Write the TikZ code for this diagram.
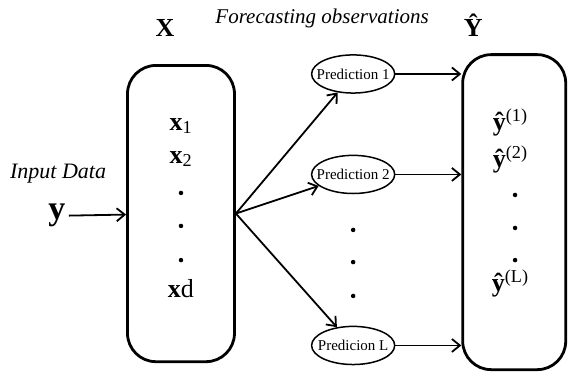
\documentclass[tikz,border=0pt]{standalone}
\usepackage{fontspec}
\setmainfont{Liberation Serif}
\usetikzlibrary{positioning,arrows.meta,shapes.geometric}
\newcommand\predfont{\fontsize{15}{18}\selectfont}
\newcommand\entryfont{\fontsize{26}{30}\selectfont\bfseries}
\newcommand\headfont{\fontsize{26}{30}\selectfont\bfseries}

\begin{document}
\begin{tikzpicture}[every node/.style={align=center},
    bigbox/.style={draw, line width=2.8pt, rounded corners=1cm, inner sep=0pt},
    predict/.style={draw, ellipse, line width=1.5pt, inner xsep=-7.5pt, inner ysep=0pt,
        minimum width=2.92cm, minimum height=1.34cm, font=\predfont},
    flow/.style={-{Straight Barb[length=8pt,width=13pt]}, line width=1.8pt},
    entry/.style={font=\entryfont, anchor=base},
    head/.style={font=\headfont, anchor=base},
    dotmark/.style={circle, fill, inner sep=0pt, minimum size=4.5pt}]
  \useasboundingbox (0,0) rectangle (19.96,-13.11);

  % the two big boxes
  \node[bigbox, minimum width=3.76cm, minimum height=10.41cm] (xbox) at (6.36,-7.505) {};
  \node[bigbox, minimum width=3.62cm, minimum height=11.07cm] (ybox) at (18.07,-7.455) {};

  % headings
  \node[head] (xhead) at (5.80,-1.30) {X};
  \node[head] (yhead) at (16.63,-1.30) {Ŷ};
  \node[font=\fontsize{21}{25}\selectfont\itshape, anchor=base] (title) at (11.32,-0.81)
    {Forecasting observations};

  % input
  \node[font=\fontsize{22}{26}\selectfont\itshape, anchor=base] (inlab) at (2.04,-6.26) {Input Data};
  \node[font=\fontsize{34}{38}\selectfont\bfseries, anchor=base] (ylab) at (2.0,-7.73) {y};
  \draw[flow] (ylab) -- (xbox);

  % features
  \node[entry] (x1) at (6.36,-4.57) {x\textsubscript{\mdseries 1}};
  \node[entry] (x2) at (6.36,-5.73) {x\textsubscript{\mdseries 2}};
  \node[entry] (xd) at (6.36,-10.44) {x{\mdseries d}};
  \foreach \i/\y in {1/-6.78,2/-7.94,3/-9.14}
    \node[dotmark] (xdot\i) at (6.36,\y) {};

  % predictions
  \node[predict] (p1) at (12.41,-2.60) {Prediction 1};
  \node[predict] (p2) at (12.41,-6.13) {Prediction 2};
  \node[predict] (pl) at (12.41,-12.14) {Predicion L};
  \foreach \i/\y in {1/-8.08,2/-9.21,3/-10.40}
    \node[dotmark] (pdot\i) at (12.41,\y) {};

  % outputs
  \node[entry] (yh1) at (17.93,-4.57) {ŷ\textsuperscript{\mdseries (1)}};
  \node[entry] (yh2) at (17.93,-5.87) {ŷ\textsuperscript{\mdseries (2)}};
  \node[entry] (yhl) at (17.93,-10.26) {ŷ\textsuperscript{\mdseries (L)}};
  \foreach \i/\y in {1/-6.85,2/-8.01,3/-9.14}
    \node[dotmark] (ydot\i) at (18.10,\y) {};

  \foreach \p in {p1,p2,pl} {
    \draw[flow] (xbox.east) -- (\p);
    \draw[flow] (\p) -- (ybox.west |- \p);
  }
\end{tikzpicture}
\end{document}
